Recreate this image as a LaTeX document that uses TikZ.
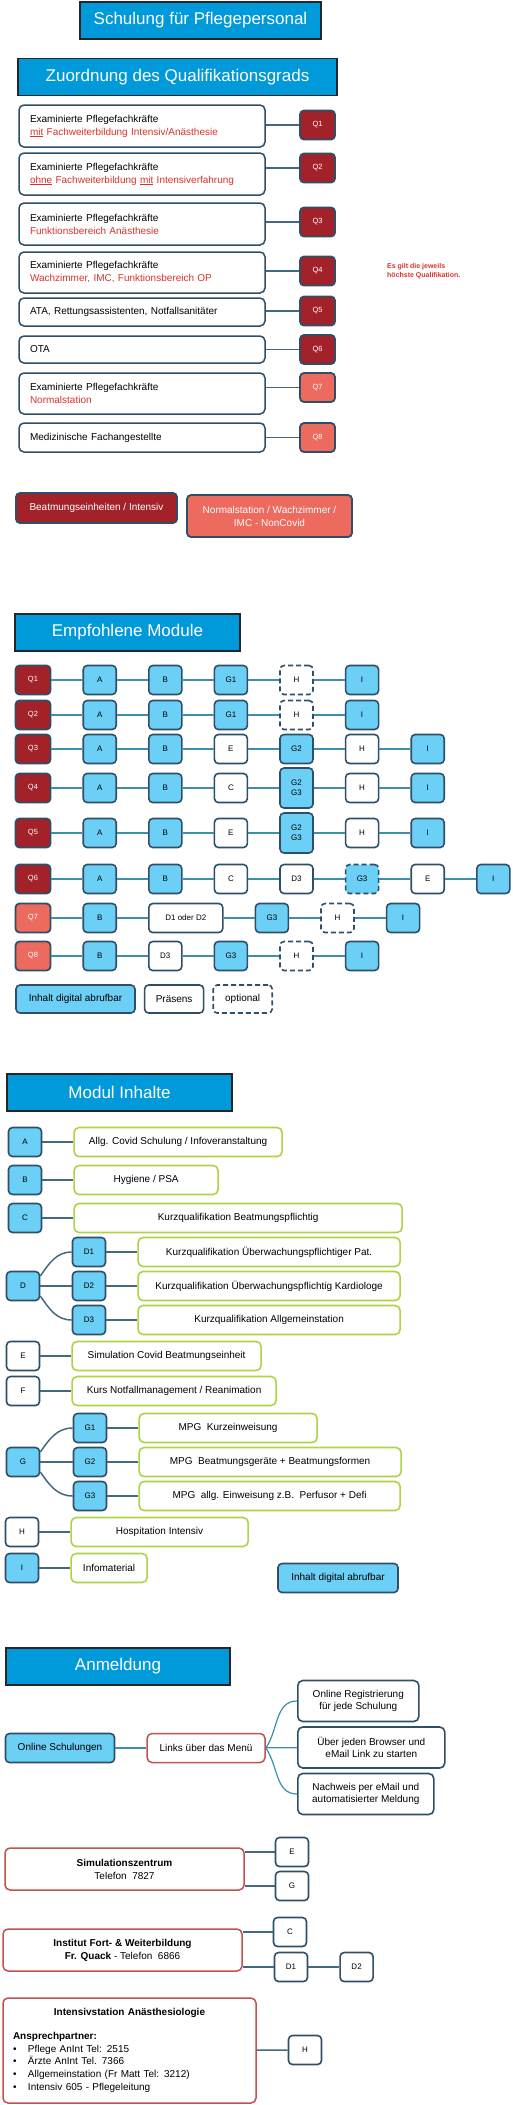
\documentclass[tikz,border=0pt]{standalone}
\usepackage{fontspec}
\setmainfont{Liberation Sans}
\usetikzlibrary{positioning}

\definecolor{kopfblau}{HTML}{0099D9}
\definecolor{rahmen}{HTML}{2E4F67}
\definecolor{hellblau}{HTML}{6CCFF6}
\definecolor{dunkelrot}{HTML}{A3222A}
\definecolor{lachs}{HTML}{EC6A5E}
\definecolor{textrot}{HTML}{D8332A}
\definecolor{gruen}{HTML}{AED343}
\definecolor{rotrand}{HTML}{C4504F}
\definecolor{tuerkis}{HTML}{3F8FA8}
\definecolor{linie}{HTML}{46687F}

\begin{document}
\begin{tikzpicture}[
        x=1pt, y=1pt,
        node distance=31pt,
        header/.style={rectangle, draw=black!85, line width=1.8pt, fill=kopfblau, text=white, font=\fontsize{17}{20}\selectfont, minimum height=37pt},
        qual/.style={rectangle, rounded corners=5pt, draw=rahmen, line width=1.5pt, fill=white, text width=224pt, inner xsep=11pt, align=left, font=\fontsize{10}{13}\selectfont},
        badge/.style={rectangle, rounded corners=4pt, draw=rahmen, line width=1.8pt, text=white, minimum width=35pt, minimum height=29pt, inner sep=0pt, font=\fontsize{7.5}{9}\selectfont},
        qint/.style={badge, fill=dunkelrot},
        qnorm/.style={badge, fill=lachs},
        modul/.style={rectangle, rounded corners=4pt, draw=rahmen, line width=1.6pt, minimum width=33pt, minimum height=29pt, inner sep=1pt, align=center, font=\fontsize{8}{10}\selectfont},
        digital/.style={modul, fill=hellblau},
        praesenz/.style={modul, fill=white},
        optmodul/.style={modul, fill=white, dash pattern=on 5pt off 3pt},
        inhalt/.style={rectangle, rounded corners=5pt, draw=gruen, line width=1.6pt, minimum height=29pt, font=\fontsize{10}{12}\selectfont},
        stelle/.style={rectangle, rounded corners=5pt, draw=rotrand, line width=1.5pt, fill=white, align=center, minimum height=29pt, font=\fontsize{10}{13}\selectfont},
        info/.style={rectangle, rounded corners=5pt, draw=rahmen, line width=1.6pt, align=center, minimum height=41pt, font=\fontsize{10}{12.5}\selectfont},
        legende/.style={font=\fontsize{10}{12}\selectfont},
        verbindung/.style={draw=linie, line width=1.5pt},
        kette/.style={draw=tuerkis, line width=1.2pt}
    ]
        \useasboundingbox (0,0) rectangle (513,-2105);

        \node[header, minimum width=241pt] (titel) at (200.5,-20.5) {Schulung für Pflegepersonal};
        \node[header, minimum width=319pt] (zuordnung) at (177.5,-77) {Zuordnung des Qualifikationsgrads};

        % Qualifikationsgrade
        \node[qual, minimum height=42pt] (qb1) at (142,-126) {Examinierte Pflegefachkräfte\\\textcolor{textrot}{\underline{mit} Fachweiterbildung Intensiv/Anästhesie}};
        \node[qual, minimum height=42pt] (qb2) at (142,-174) {Examinierte Pflegefachkräfte\\\textcolor{textrot}{\underline{ohne} Fachweiterbildung \underline{mit} Intensiverfahrung}};
        \node[qual, minimum height=42pt] (qb3) at (142,-224) {Examinierte Pflegefachkräfte\\\textcolor{textrot}{Funktionsbereich Anästhesie}};
        \node[qual, minimum height=41pt] (qb4) at (142,-272.5) {Examinierte Pflegefachkräfte\\\textcolor{textrot}{Wachzimmer, IMC, Funktionsbereich OP}};
        \node[qual, minimum height=28pt] (qb5) at (142,-312) {ATA, Rettungsassistenten, Notfallsanitäter};
        \node[qual, minimum height=27pt] (qb6) at (142,-349.5) {OTA};
        \node[qual, minimum height=41pt] (qb7) at (142,-393.5) {Examinierte Pflegefachkräfte\\\textcolor{textrot}{Normalstation}};
        \node[qual, minimum height=29pt] (qb8) at (142,-437.5) {Medizinische Fachangestellte};

        \node[qint] (q1) at (317.5,-125) {Q1};
        \node[qint] (q2) at (317.5,-168) {Q2};
        \node[qint] (q3) at (317.5,-222) {Q3};
        \node[qint] (q4) at (317.5,-271) {Q4};
        \node[qint] (q5) at (317.5,-311) {Q5};
        \node[qint] (q6) at (317.5,-349.5) {Q6};
        \node[qnorm] (q7) at (317.5,-387.5) {Q7};
        \node[qnorm] (q8) at (317.5,-437.5) {Q8};

        \draw[verbindung] (qb1.east |- q1) -- (q1);
        \draw[verbindung] (qb2.east |- q2) -- (q2);
        \draw[verbindung] (qb3.east |- q3) -- (q3);
        \draw[verbindung] (qb4.east |- q4) -- (q4);
        \draw[verbindung] (qb5.east |- q5) -- (q5);
        \draw[verbindung] (qb6.east |- q6) -- (q6);
        \draw[verbindung] (qb7.east |- q7) -- (q7);
        \draw[verbindung] (qb8.east |- q8) -- (q8);

        \node[font=\fontsize{7}{9}\selectfont\bfseries, text=textrot, align=left, anchor=west, inner sep=0pt] (hinweis) at (387,-271) {Es gilt die jeweils\\höchste Qualifikation.};

        \node[qint, minimum width=161pt, minimum height=30pt, legende] (legint) at (96.5,-508) {Beatmungseinheiten / Intensiv};
        \node[qnorm, minimum width=165pt, minimum height=42pt, align=center, font=\fontsize{10}{13}\selectfont] (legnorm) at (269.5,-516) {Normalstation / Wachzimmer /\\IMC - NonCovid};

        % Empfohlene Module
        \node[header, minimum width=225pt] (empfehlung) at (127.5,-632.5) {Empfohlene Module};

        \node[qint] (e1q) at (33,-680) {Q1};
        \node[digital, right=of e1q] (e1a) {A};
        \node[digital, right=of e1a] (e1b) {B};
        \node[digital, right=of e1b] (e1g) {G1};
        \node[optmodul, right=of e1g] (e1h) {H};
        \node[digital, right=of e1h] (e1i) {I};
        \draw[kette] (e1q) -- (e1a) -- (e1b) -- (e1g) -- (e1h) -- (e1i);

        \node[qint] (e2q) at (33,-715) {Q2};
        \node[digital, right=of e2q] (e2a) {A};
        \node[digital, right=of e2a] (e2b) {B};
        \node[digital, right=of e2b] (e2g) {G1};
        \node[optmodul, right=of e2g] (e2h) {H};
        \node[digital, right=of e2h] (e2i) {I};
        \draw[kette] (e2q) -- (e2a) -- (e2b) -- (e2g) -- (e2h) -- (e2i);

        \node[qint] (e3q) at (33,-749) {Q3};
        \node[digital, right=of e3q] (e3a) {A};
        \node[digital, right=of e3a] (e3b) {B};
        \node[praesenz, right=of e3b] (e3e) {E};
        \node[digital, right=of e3e] (e3g) {G2};
        \node[praesenz, right=of e3g] (e3h) {H};
        \node[digital, right=of e3h] (e3i) {I};
        \draw[kette] (e3q) -- (e3a) -- (e3b) -- (e3e) -- (e3g) -- (e3h) -- (e3i);

        \node[qint] (e4q) at (33,-788) {Q4};
        \node[digital, right=of e4q] (e4a) {A};
        \node[digital, right=of e4a] (e4b) {B};
        \node[praesenz, right=of e4b] (e4c) {C};
        \node[digital, minimum height=40pt, right=of e4c] (e4g) {G2\\G3};
        \node[praesenz, right=of e4g] (e4h) {H};
        \node[digital, right=of e4h] (e4i) {I};
        \draw[kette] (e4q) -- (e4a) -- (e4b) -- (e4c) -- (e4g) -- (e4h) -- (e4i);

        \node[qint] (e5q) at (33,-833) {Q5};
        \node[digital, right=of e5q] (e5a) {A};
        \node[digital, right=of e5a] (e5b) {B};
        \node[praesenz, right=of e5b] (e5e) {E};
        \node[digital, minimum height=40pt, right=of e5e] (e5g) {G2\\G3};
        \node[praesenz, right=of e5g] (e5h) {H};
        \node[digital, right=of e5h] (e5i) {I};
        \draw[kette] (e5q) -- (e5a) -- (e5b) -- (e5e) -- (e5g) -- (e5h) -- (e5i);

        \node[qint] (e6q) at (33,-879) {Q6};
        \node[digital, right=of e6q] (e6a) {A};
        \node[digital, right=of e6a] (e6b) {B};
        \node[praesenz, right=of e6b] (e6c) {C};
        \node[praesenz, right=of e6c] (e6d) {D3};
        \node[digital, dash pattern=on 5pt off 3pt, right=of e6d] (e6g) {G3};
        \node[praesenz, right=of e6g] (e6e) {E};
        \node[digital, right=of e6e] (e6i) {I};
        \draw[kette] (e6q) -- (e6a) -- (e6b) -- (e6c) -- (e6d) -- (e6g) -- (e6e) -- (e6i);

        \node[qnorm] (e7q) at (33,-918) {Q7};
        \node[digital, right=of e7q] (e7b) {B};
        \node[praesenz, minimum width=74pt, right=of e7b] (e7d) {D1 oder D2};
        \node[digital, right=of e7d] (e7g) {G3};
        \node[optmodul, right=of e7g] (e7h) {H};
        \node[digital, right=of e7h] (e7i) {I};
        \draw[kette] (e7q) -- (e7b) -- (e7d) -- (e7g) -- (e7h) -- (e7i);

        \node[qnorm] (e8q) at (33,-956) {Q8};
        \node[digital, right=of e8q] (e8b) {B};
        \node[praesenz, right=of e8b] (e8d) {D3};
        \node[digital, right=of e8d] (e8g) {G3};
        \node[optmodul, right=of e8g] (e8h) {H};
        \node[digital, right=of e8h] (e8i) {I};
        \draw[kette] (e8q) -- (e8b) -- (e8d) -- (e8g) -- (e8h) -- (e8i);

        \node[digital, legende, minimum width=119pt, minimum height=28pt] (legdig) at (75.5,-999) {Inhalt digital abrufbar};
        \node[praesenz, legende, minimum width=59pt, minimum height=28pt, right=8pt of legdig] (legpraes) {Präsens};
        \node[optmodul, legende, minimum width=59pt, minimum height=28pt, right=8pt of legpraes] (legopt) {optional};

        % Modul Inhalte
        \node[header, minimum width=225pt] (inhalte) at (119.5,-1092.5) {Modul Inhalte};

        \node[digital] (mA) at (25,-1142) {A};
        \node[digital] (mB) at (25,-1180) {B};
        \node[digital] (mC) at (25,-1218) {C};
        \node[digital] (mD) at (23,-1286) {D};
        \node[digital] (mD1) at (89,-1252) {D1};
        \node[digital] (mD2) at (89,-1286) {D2};
        \node[digital] (mD3) at (89,-1320) {D3};
        \node[praesenz] (mE) at (23,-1356) {E};
        \node[praesenz] (mF) at (23,-1391) {F};
        \node[digital] (mG) at (23,-1462) {G};
        \node[digital] (mG1) at (90,-1428) {G1};
        \node[digital] (mG2) at (90,-1462) {G2};
        \node[digital] (mG3) at (90,-1496) {G3};
        \node[praesenz] (mH) at (22,-1532) {H};
        \node[digital] (mI) at (22,-1568) {I};

        \node[inhalt, minimum width=208pt, right=of mA] (tA) {Allg. Covid Schulung / Infoveranstaltung};
        \node[inhalt, minimum width=144pt, right=of mB] (tB) {Hygiene / PSA};
        \node[inhalt, minimum width=328pt, right=of mC] (tC) {Kurzqualifikation Beatmungspflichtig};
        \node[inhalt, minimum width=262pt, right=of mD1] (tD1) {Kurzqualifikation Überwachungspflichtiger Pat.};
        \node[inhalt, minimum width=262pt, right=of mD2] (tD2) {Kurzqualifikation Überwachungspflichtig Kardiologe};
        \node[inhalt, minimum width=262pt, right=of mD3] (tD3) {Kurzqualifikation Allgemeinstation};
        \node[inhalt, minimum width=189pt, right=of mE] (tE) {Simulation Covid Beatmungseinheit};
        \node[inhalt, minimum width=204pt, right=of mF] (tF) {Kurs Notfallmanagement / Reanimation};
        \node[inhalt, minimum width=178pt, right=of mG1] (tG1) {MPG\ \ Kurzeinweisung};
        \node[inhalt, minimum width=262pt, right=of mG2] (tG2) {MPG\ \ Beatmungsgeräte + Beatmungsformen};
        \node[inhalt, minimum width=261pt, right=of mG3] (tG3) {MPG\ \ allg. Einweisung z.B.\ \ Perfusor + Defi};
        \node[inhalt, minimum width=177pt, right=of mH] (tH) {Hospitation Intensiv};
        \node[inhalt, minimum width=76pt, right=of mI] (tI) {Infomaterial};

        \draw[verbindung] (mA) -- (tA);
        \draw[verbindung] (mB) -- (tB);
        \draw[verbindung] (mC) -- (tC);
        \draw[verbindung] (mD.30) to[out=55, in=180] (mD1.west);
        \draw[verbindung] (mD) -- (mD2);
        \draw[verbindung] (mD.-30) to[out=-55, in=180] (mD3.west);
        \draw[verbindung] (mD1) -- (tD1);
        \draw[verbindung] (mD2) -- (tD2);
        \draw[verbindung] (mD3) -- (tD3);
        \draw[verbindung] (mE) -- (tE);
        \draw[verbindung] (mF) -- (tF);
        \draw[verbindung] (mG.30) to[out=55, in=180] (mG1.west);
        \draw[verbindung] (mG) -- (mG2);
        \draw[verbindung] (mG.-30) to[out=-55, in=180] (mG3.west);
        \draw[verbindung] (mG1) -- (tG1);
        \draw[verbindung] (mG2) -- (tG2);
        \draw[verbindung] (mG3) -- (tG3);
        \draw[verbindung] (mH) -- (tH);
        \draw[verbindung] (mI) -- (tI);

        \node[digital, legende, minimum width=120pt] (legdig2) at (338,-1578) {Inhalt digital abrufbar};

        % Anmeldung
        \node[header, minimum width=224pt] (anmeldung) at (118,-1666.5) {Anmeldung};

        \node[digital, legende, minimum width=109pt] (online) at (60,-1748) {Online Schulungen};
        \node[stelle, minimum width=118pt, right=of online] (links) {Links über das Menü};
        \node[info, minimum width=121pt, anchor=west] (reg) at (297,-1701) {Online Registrierung\\für jede Schulung};
        \node[info, minimum width=147pt, anchor=west] (browser) at (297,-1747.5) {Über jeden Browser und\\eMail Link zu starten};
        \node[info, minimum width=136pt, anchor=west] (nachweis) at (297,-1794) {Nachweis per eMail und\\automatisierter Meldung};
        \draw[kette] (online) -- (links);
        \draw[kette] (links.east) to[out=55, in=180] (reg.west);
        \draw[kette] (links) -- (browser);
        \draw[kette] (links.east) to[out=-55, in=180] (nachweis.west);

        \node[stelle, minimum width=239pt, minimum height=42pt] (sim) at (124.5,-1869) {\textbf{Simulationszentrum}\\Telefon\ \ 7827};
        \node[praesenz] (simE) at (292,-1852) {E};
        \node[praesenz] (simG) at (292,-1886) {G};
        \draw[verbindung] (sim.east |- simE) -- (simE);
        \draw[verbindung] (sim.east |- simG) -- (simG);

        \node[stelle, minimum width=239pt, minimum height=42pt] (inst) at (122.5,-1950) {\textbf{Institut Fort- \& Weiterbildung}\\\textbf{Fr. Quack} - Telefon\ \ 6866};
        \node[praesenz] (instC) at (290,-1932) {C};
        \node[praesenz] (instD1) at (291,-1967) {D1};
        \node[praesenz, right=of instD1] (instD2) {D2};
        \draw[verbindung] (inst.east |- instC) -- (instC);
        \draw[verbindung] (inst.east |- instD1) -- (instD1) -- (instD2);

        \node[stelle, text width=233pt, inner xsep=10pt, align=left, minimum height=105pt, font=\fontsize{10}{12.7}\selectfont] (anint) at (129.5,-2050.5) {\makebox[233pt][c]{\textbf{Intensivstation Anästhesiologie}}\\[11pt]
            \textbf{Ansprechpartner:}\\
            \makebox[15pt][l]{\textbullet}Pflege AnInt Tel: 2515\\
            \makebox[15pt][l]{\textbullet}Ärzte AnInt Tel. 7366\\
            \makebox[15pt][l]{\textbullet}Allgemeinstation (Fr Matt Tel: 3212)\\
            \makebox[15pt][l]{\textbullet}Intensiv 605 - Pflegeleitung};
        \node[praesenz] (anintH) at (305,-2050) {H};
        \draw[verbindung] (anint) -- (anintH);
    \end{tikzpicture}
\end{document}
